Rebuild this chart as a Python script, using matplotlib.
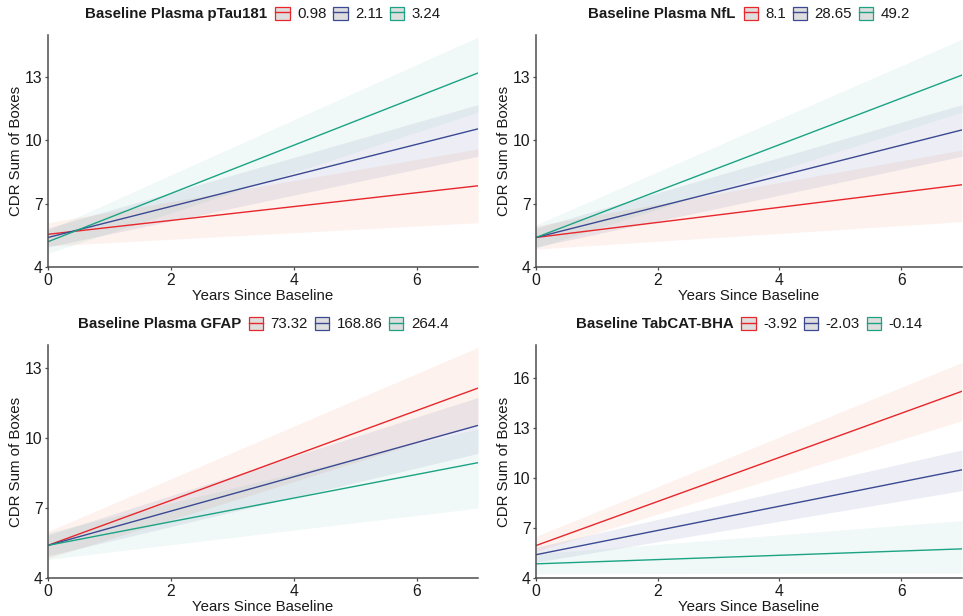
import matplotlib.pyplot as plt
from matplotlib.patches import Patch
from matplotlib.lines import Line2D

plt.rcParams['font.family'] = ['Liberation Sans', 'DejaVu Sans']

# data (value at year 0 and year 7)
years = [0, 7]
line_colors = ['#E8262B', '#3B4992', '#1BA383']
band_colors = ['#EE5A30', '#3B4992', '#2AA589']
band_alpha = [0.08, 0.09, 0.065]

titles = ['Baseline Plasma pTau181', 'Baseline Plasma NfL',
          'Baseline Plasma GFAP', 'Baseline TabCAT-BHA']

ptau_labels = ['0.98', '2.11', '3.24']
ptau_fit = [[5.55, 7.85], [5.4, 10.55], [5.2, 13.2]]
ptau_lo = [[5.0, 6.1], [4.95, 9.25], [4.65, 11.35]]
ptau_hi = [[6.1, 9.6], [5.85, 11.7], [5.75, 14.9]]

nfl_labels = ['8.1', '28.65', '49.2']
nfl_fit = [[5.4, 7.9], [5.4, 10.5], [5.4, 13.1]]
nfl_lo = [[4.85, 6.15], [4.95, 9.25], [4.9, 11.35]]
nfl_hi = [[5.95, 9.55], [5.85, 11.7], [6.0, 14.8]]

gfap_labels = ['73.32', '168.86', '264.4']
gfap_fit = [[5.4, 12.15], [5.4, 10.55], [5.4, 8.95]]
gfap_lo = [[4.85, 10.6], [4.95, 9.35], [4.8, 7.0]]
gfap_hi = [[6.0, 13.9], [5.85, 11.75], [5.95, 10.4]]

bha_labels = ['-3.92', '-2.03', '-0.14']
bha_fit = [[5.95, 15.22], [5.4, 10.5], [4.85, 5.75]]
bha_lo = [[5.6, 13.45], [4.95, 9.25], [4.25, 4.3]]
bha_hi = [[6.5, 16.95], [5.85, 11.7], [5.45, 7.45]]

ylims = [(4, 15), (4, 15), (4, 14), (4, 18)]
yticks = [[4, 7, 10, 13], [4, 7, 10, 13], [4, 7, 10, 13], [4, 7, 10, 13, 16]]
xticks = [0, 2, 4, 6]

W, H = 963, 616
fig = plt.figure(figsize=(W / 100, H / 100), dpi=100)

boxes = [(48, 35, 478, 267), (536, 35, 962, 267),
         (48, 345, 478, 578), (536, 345, 962, 578)]
legend_y = [14, 14, 324, 324]

panels = [(ptau_labels, ptau_fit, ptau_lo, ptau_hi),
          (nfl_labels, nfl_fit, nfl_lo, nfl_hi),
          (gfap_labels, gfap_fit, gfap_lo, gfap_hi),
          (bha_labels, bha_fit, bha_lo, bha_hi)]

legends = []
for i, (labels, fit, lo, hi) in enumerate(panels):
    l, t, r, b = boxes[i]
    ax = fig.add_axes([l / W, 1 - b / H, (r - l) / W, (b - t) / H])
    for k in range(3):
        ax.fill_between(years, lo[k], hi[k], color=band_colors[k],
                        alpha=band_alpha[k], lw=0)
    for k in range(3):
        ax.plot(years, fit[k], color=line_colors[k], lw=1.0)
    ax.set_xlim(0, 7)
    ax.set_ylim(*ylims[i])
    ax.set_xticks(xticks)
    ax.set_yticks(yticks[i])
    for s in ['top', 'right']:
        ax.spines[s].set_visible(False)
    for s in ['left', 'bottom']:
        ax.spines[s].set_color('#4d4d4d')
        ax.spines[s].set_linewidth(1.1)
    ax.tick_params(length=2.5, width=0.9, color='#4d4d4d', labelsize=11.3,
                   labelcolor='#1a1a1a', pad=1.5)
    ax.set_xlabel('Years Since Baseline', fontsize=10.8, color='#1a1a1a', labelpad=1)
    ax.set_ylabel('CDR Sum of Boxes', fontsize=10.8, color='#1a1a1a', labelpad=1)

    handles = [(Patch(facecolor='#dedede', edgecolor=c, lw=0.9),
                Line2D([], [], color=c, lw=1.0)) for c in line_colors]
    leg = fig.legend(handles, labels, loc='center left', bbox_to_anchor=(0, 0.5),
                     ncol=3, frameon=False, fontsize=10.8, handlelength=0.95,
                     handleheight=1.0, handletextpad=0.5, columnspacing=0.45,
                     borderpad=0, borderaxespad=0)
    for txt in leg.get_texts():
        txt.set_color('#1a1a1a')
    title = fig.text(0, 1 - legend_y[i] / H, titles[i], fontsize=10.8,
                     fontweight='bold', color='#1a1a1a', ha='left', va='center')
    legends.append((leg, title))

# centre title + legend over each panel
fig.canvas.draw()
renderer = fig.canvas.get_renderer()
gap = 8
for i, (leg, title) in enumerate(legends):
    l, t, r, b = boxes[i]
    wt = title.get_window_extent(renderer).width
    wl = leg.get_window_extent(renderer).width
    start = (l + r) / 2 - (wt + gap + wl) / 2
    yf = 1 - legend_y[i] / H
    title.set_position((start / W, yf))
    leg.set_bbox_to_anchor(((start + wt + gap) / W, yf), transform=fig.transFigure)

fig.savefig('out.png', dpi=100)
